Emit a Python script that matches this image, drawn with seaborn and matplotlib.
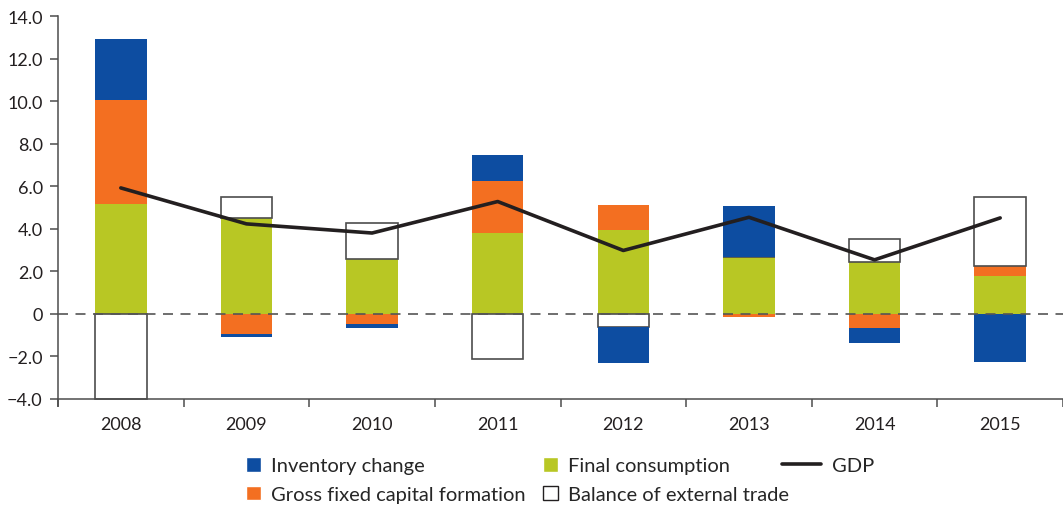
import numpy as np
import pandas as pd
import seaborn as sns
import matplotlib.pyplot as plt
from matplotlib.patches import Patch
from matplotlib.lines import Line2D
from matplotlib.legend_handler import HandlerLine2D

# data
years = ["2008", "2009", "2010", "2011", "2012", "2013", "2014", "2015"]
final_consumption = [5.15, 4.5, 2.6, 3.8, 3.95, 2.68, 2.46, 1.8]
gross_fixed_capital = [4.9, -0.94, -0.47, 2.45, 1.17, -0.17, -0.66, 0.45]
external_trade = [-4.0, 0.97, 1.65, -2.12, -0.64, 0.0, 1.08, 3.25]
inventory_change = [2.85, -0.14, -0.19, 1.22, -1.66, 2.39, -0.69, -2.28]
gdp = [5.92, 4.23, 3.8, 5.28, 2.98, 4.54, 2.54, 4.51]
yticks = [-4, -2, 0, 2, 4, 6, 8, 10, 12, 14]
ytick_labels = ["\u22124.0", "\u22122.0", "0", "2.0", "4.0", "6.0", "8.0", "10.0", "12.0", "14.0"]

BLUE = "#0d4da1"
ORANGE = "#f36f21"
GREEN = "#b8c724"
EDGE = "#4d4d4d"
LINE = "#231f20"

sns.set_style("white")
plt.rcParams['font.family'] = ['Lato', 'DejaVu Sans']

fig = plt.figure(figsize=(10.63, 5.1), dpi=100)
ax = fig.add_axes([58 / 1063, 1 - 407 / 510, 1005 / 1063, 390 / 510])

x = np.arange(len(years))
width = 0.41

# stack positives up from zero, negatives down from zero
pos_base = np.zeros(len(years))
neg_base = np.zeros(len(years))
series = [
    (final_consumption, GREEN, "none", 0),
    (gross_fixed_capital, ORANGE, "none", 0),
    (external_trade, "white", EDGE, 1.2),
    (inventory_change, BLUE, "none", 0),
]
for vals, color, edge, lw in series:
    vals = np.array(vals)
    bottom = np.where(vals >= 0, pos_base, neg_base)
    ax.bar(x, vals, width=width, bottom=bottom, color=color,
           edgecolor=edge, linewidth=lw, zorder=2)
    pos_base = pos_base + np.clip(vals, 0, None)
    neg_base = neg_base + np.clip(vals, None, 0)

ax.axhline(0, color="#555555", lw=1.2, ls=(0, (6, 4.5)), zorder=3)

gdp_df = pd.DataFrame({"x": x, "gdp": gdp})
sns.lineplot(data=gdp_df, x="x", y="gdp", color=LINE, lw=2.6, ax=ax, zorder=4)

ax.set_xlim(-0.5, len(years) - 0.5)
ax.set_ylim(-4.33, 14)
ax.set_yticks(yticks)
ax.set_yticklabels(ytick_labels)
ax.set_xticks(x)
ax.set_xticklabels(years)
ax.set_xticks(np.arange(len(years) + 1) - 0.5, minor=True)
ax.set_xlabel("")
ax.set_ylabel("")

for side in ["top", "right"]:
    ax.spines[side].set_visible(False)
for side in ["left", "bottom"]:
    ax.spines[side].set_color(EDGE)
    ax.spines[side].set_linewidth(1.1)
ax.spines["bottom"].set_position(("data", -4))

ax.tick_params(axis="y", which="major", left=True, length=6, width=1.1,
               color=EDGE, pad=5, labelsize=13, labelcolor="#231f20")
ax.tick_params(axis="x", which="major", bottom=False, length=0, pad=12,
               labelsize=13, labelcolor="#231f20")
ax.tick_params(axis="x", which="minor", bottom=True, length=6, width=1.1,
               color=EDGE)


class WideLine(HandlerLine2D):
    # draw the GDP line longer than the square patches, extending left
    def create_artists(self, legend, orig_handle, xdescent, ydescent,
                       width, height, fontsize, trans):
        extra = 1.6 * width
        return super().create_artists(legend, orig_handle, xdescent + extra,
                                      ydescent, width + extra, height,
                                      fontsize, trans)


handles = [
    Patch(facecolor=BLUE, label="Inventory change"),
    Patch(facecolor=ORANGE, label="Gross fixed capital formation"),
    Patch(facecolor=GREEN, label="Final consumption"),
    Patch(facecolor="white", edgecolor="#231f20", linewidth=1.0,
          label="Balance of external trade"),
    Line2D([0], [0], color=LINE, lw=2.6, label="GDP"),
]
fig.legend(handles=handles, ncol=3, loc="center", frameon=False,
           bbox_to_anchor=(560 / 1063, 1 - 481 / 510), fontsize=14.5,
           handlelength=0.75, handleheight=0.75, handletextpad=0.5,
           columnspacing=0.85, labelspacing=0.55,
           handler_map={Line2D: WideLine()})

fig.savefig("out.png", dpi=100)
